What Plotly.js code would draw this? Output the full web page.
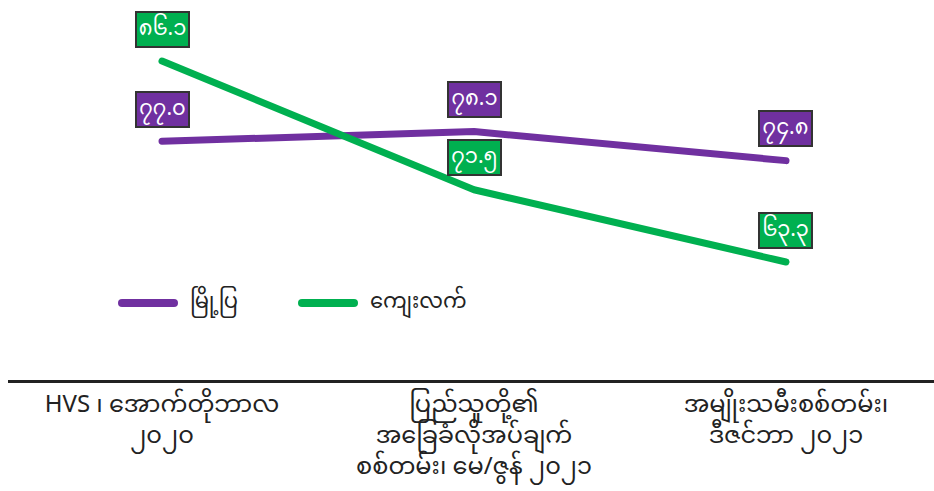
<!DOCTYPE html>
<html>
<head>
<meta charset="utf-8">
<script src="https://cdn.plot.ly/plotly-3.0.1.min.js"></script>
<style>
  html, body { margin: 0; padding: 0; background: #fff; }
  #chart { width: 934px; height: 491px; }
  /* rounded ends on the series lines and legend swatches */
  #chart .scatterlayer path.js-line,
  #chart .shapelayer path { stroke-linecap: round; stroke-linejoin: round; }
</style>
</head>
<body>
<div id="chart"></div>
<script>
// Survey rounds along the x axis
const surveys = [
  "HVS ၊ အောက်တိုဘာလ<br>၂၀၂၀",
  "ပြည်သူတို့၏<br>အခြေခံလိုအပ်ချက်<br>စစ်တမ်း၊ မေ/ဇွန် ၂၀၂၁",
  "အမျိုးသမီးစစ်တမ်း၊<br>ဒီဇင်ဘာ ၂၀၂၁"
];
const seriesNames = ["မြို့ပြ", "ကျေးလက်"];
const urbanValues = [77.0, 78.1, 74.8];
const ruralValues = [86.1, 71.5, 63.3];
const seriesColors = ["#7030A0", "#00B050"];

const FONT = "'Noto Sans Myanmar', 'Padauk', 'Myanmar Text', 'Noto Sans', sans-serif";

// Write a number with Myanmar digits, one decimal place
function toMyanmar(v) {
  return v.toFixed(1).replace(/[0-9]/g, d => String.fromCharCode(0x1040 + Number(d)));
}

const xs = surveys.map((_, i) => i);
const series = [urbanValues, ruralValues];

const traces = series.map((vals, s) => ({
  type: "scatter",
  mode: "lines",
  x: xs,
  y: vals,
  name: seriesNames[s],
  line: { color: seriesColors[s], width: 7 },
  showlegend: false,
  hoverinfo: "skip"
}));

// Value labels sitting above every point
const annotations = [];
series.forEach((vals, s) => {
  vals.forEach((v, i) => {
    annotations.push({
      x: i, y: v, xref: "x", yref: "y",
      text: toMyanmar(v),
      showarrow: false,
      yshift: 32,
      width: 51,
      height: 33,
      valign: "middle",
      bgcolor: seriesColors[s],
      bordercolor: "#333333",
      borderwidth: 2,
      borderpad: 0,
      font: { family: FONT, size: 21, color: "#ffffff" }
    });
  });
});

// Legend row: a thick swatch followed by the series name
const legendX = [122, 302];
const legendY = 303;
const shapes = [];
seriesNames.forEach((name, s) => {
  shapes.push({
    type: "line", xref: "paper", yref: "paper",
    x0: (legendX[s] - 8) / 926, x1: (legendX[s] + 44) / 926,
    y0: (380 - legendY) / 380, y1: (380 - legendY) / 380,
    line: { color: seriesColors[s], width: 8 }
  });
  annotations.push({
    xref: "paper", yref: "paper",
    x: (legendX[s] + 66 - 8) / 926, y: (380 - legendY) / 380,
    xanchor: "left", yanchor: "middle",
    text: name, showarrow: false,
    font: { family: FONT, size: 21, color: "#222222" }
  });
});

const layout = {
  width: 934,
  height: 491,
  margin: { l: 8, r: 0, t: 0, b: 111 },
  paper_bgcolor: "#ffffff",
  plot_bgcolor: "#ffffff",
  showlegend: false,
  xaxis: {
    range: [-0.4936, 2.4744],
    tickvals: xs,
    ticktext: surveys,
    showgrid: false,
    zeroline: false,
    showline: true,
    linecolor: "#222222",
    linewidth: 3,
    ticks: "",
    tickfont: { family: FONT, size: 24, color: "#222222" },
    fixedrange: true
  },
  yaxis: {
    range: [49.92, 93.02],
    visible: false,
    showgrid: false,
    zeroline: false,
    fixedrange: true
  },
  shapes: shapes,
  annotations: annotations,
  font: { family: FONT }
};

Plotly.newPlot("chart", traces, layout, { displayModeBar: false, staticPlot: true });
</script>
</body>
</html>
